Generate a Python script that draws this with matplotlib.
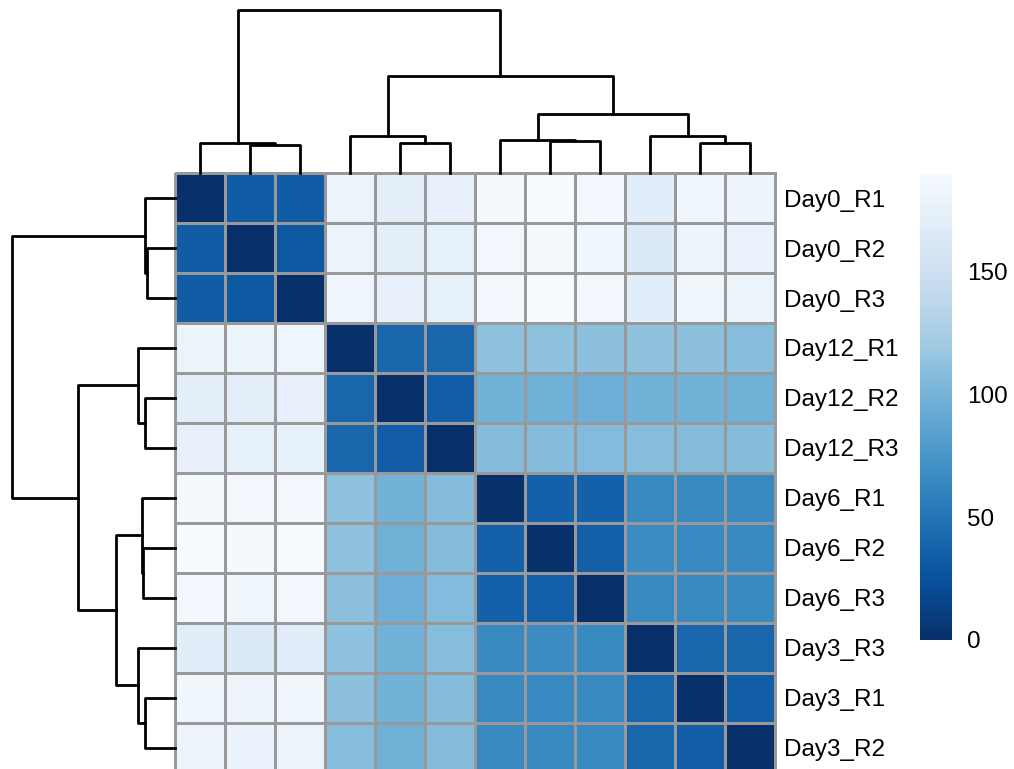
import matplotlib
matplotlib.use("Agg")
import matplotlib.pyplot as plt
import numpy as np

plt.rcParams['font.family'] = ['Liberation Sans', 'DejaVu Sans']

# sample names in clustered order (rows and columns share it)
samples = ["Day0_R1", "Day0_R2", "Day0_R3",
           "Day12_R1", "Day12_R2", "Day12_R3",
           "Day6_R1", "Day6_R2", "Day6_R3",
           "Day3_R3", "Day3_R1", "Day3_R2"]

# sample-to-sample distances
dist_day0_r1 = [0, 32, 32, 179, 172, 174, 187, 190, 185, 169, 182, 180]
dist_day0_r2 = [32, 0, 29, 179, 170, 173, 184, 187, 182, 164, 180, 177]
dist_day0_r3 = [32, 29, 0, 181, 174, 175, 186, 188, 184, 169, 182, 179]
dist_day12_r1 = [179, 179, 181, 0, 40, 40, 111, 111, 110, 112, 110, 108]
dist_day12_r2 = [172, 170, 174, 40, 0, 33, 98, 97, 95, 98, 98, 97]
dist_day12_r3 = [174, 173, 175, 40, 33, 0, 107, 107, 106, 108, 107, 107]
dist_day6_r1 = [187, 184, 186, 111, 98, 107, 0, 36, 36, 66, 65, 65]
dist_day6_r2 = [190, 187, 188, 111, 97, 107, 36, 0, 35, 67, 64, 65]
dist_day6_r3 = [185, 182, 184, 110, 95, 106, 36, 35, 0, 66, 65, 66]
dist_day3_r3 = [169, 164, 169, 112, 98, 108, 66, 67, 66, 0, 40, 40]
dist_day3_r1 = [182, 180, 182, 110, 98, 107, 65, 64, 65, 40, 0, 33]
dist_day3_r2 = [180, 177, 179, 108, 97, 107, 65, 65, 66, 40, 33, 0]

# hierarchical clustering merges: (left, right, height); ids >= 12 are earlier merges
merge_left = [1, 0, 4, 3, 7, 6, 10, 9, 17, 15, 13]
merge_right = [2, 12, 5, 14, 8, 16, 11, 18, 19, 20, 21]
merge_height = [28, 30.5, 30.5, 37, 32.5, 33.5, 30.5, 37, 59.5, 97.5, 163]

legend_ticks = [0, 50, 100, 150]

mat = np.array([dist_day0_r1, dist_day0_r2, dist_day0_r3,
                dist_day12_r1, dist_day12_r2, dist_day12_r3,
                dist_day6_r1, dist_day6_r2, dist_day6_r3,
                dist_day3_r3, dist_day3_r1, dist_day3_r2], dtype=float)
n = len(samples)
vmin, vmax = mat.min(), mat.max()
cmap = plt.get_cmap("Blues_r")

W, H = 1014, 769


def px_axes(fig, left, top, width, height):
    return fig.add_axes([left / W, 1 - (top + height) / H, width / W, height / H])


def dendro_segments(lefts, rights, heights, n_leaves):
    # leaf centres sit at i + 0.5, merges sit at the mean of their children
    pos = {i: i + 0.5 for i in range(n_leaves)}
    hgt = {i: 0.0 for i in range(n_leaves)}
    segs = []
    for k, (a, b, h) in enumerate(zip(lefts, rights, heights)):
        node = n_leaves + k
        segs.append(([pos[a], pos[a], pos[b], pos[b]], [hgt[a], h, h, hgt[b]]))
        pos[node] = (pos[a] + pos[b]) / 2
        hgt[node] = h
    return segs


fig = plt.figure(figsize=(W / 100, H / 100), dpi=100)

# heatmap
ax = px_axes(fig, 175, 173, 600, 600)
mesh = ax.pcolormesh(np.arange(n + 1), np.arange(n + 1), mat, cmap=cmap,
                     vmin=vmin, vmax=vmax, edgecolors="#999999", linewidth=2.0)
mesh.set_clip_on(False)
ax.set_xlim(0, n)
ax.set_ylim(n, 0)
ax.set_xticks([])
ax.yaxis.tick_right()
ax.set_yticks(np.arange(n) + 0.5)
ax.set_yticklabels(samples, fontsize=17.5)
ax.tick_params(axis="y", length=0, pad=6.5)
for s in ax.spines.values():
    s.set_visible(False)

segs = dendro_segments(merge_left, merge_right, merge_height, n)
top_h = max(merge_height)

# column dendrogram
ax_col = px_axes(fig, 175, 10, 600, 163)
for xs, ys in segs:
    ax_col.plot(xs, ys, color="black", lw=2.0, solid_capstyle="projecting", clip_on=False)
ax_col.set_xlim(0, n)
ax_col.set_ylim(0, top_h)
ax_col.axis("off")

# row dendrogram
ax_row = px_axes(fig, 12, 173, 163, 600)
for xs, ys in segs:
    ax_row.plot(ys, xs, color="black", lw=2.0, solid_capstyle="projecting", clip_on=False)
ax_row.set_xlim(top_h, 0)
ax_row.set_ylim(n, 0)
ax_row.axis("off")

# colour legend
ax_leg = px_axes(fig, 920, 173, 32, 467)
grad = np.linspace(vmin, vmax, 256).reshape(-1, 1)
ax_leg.imshow(grad, cmap=cmap, vmin=vmin, vmax=vmax, aspect="auto",
              origin="lower", extent=[0, 1, vmin, vmax])
ax_leg.set_xticks([])
ax_leg.yaxis.tick_right()
ax_leg.set_yticks(legend_ticks)
ax_leg.set_yticklabels([str(t) for t in legend_ticks], fontsize=17.5)
ax_leg.tick_params(axis="y", length=0, pad=11)
for s in ax_leg.spines.values():
    s.set_visible(False)

fig.savefig("out.png", dpi=100)
